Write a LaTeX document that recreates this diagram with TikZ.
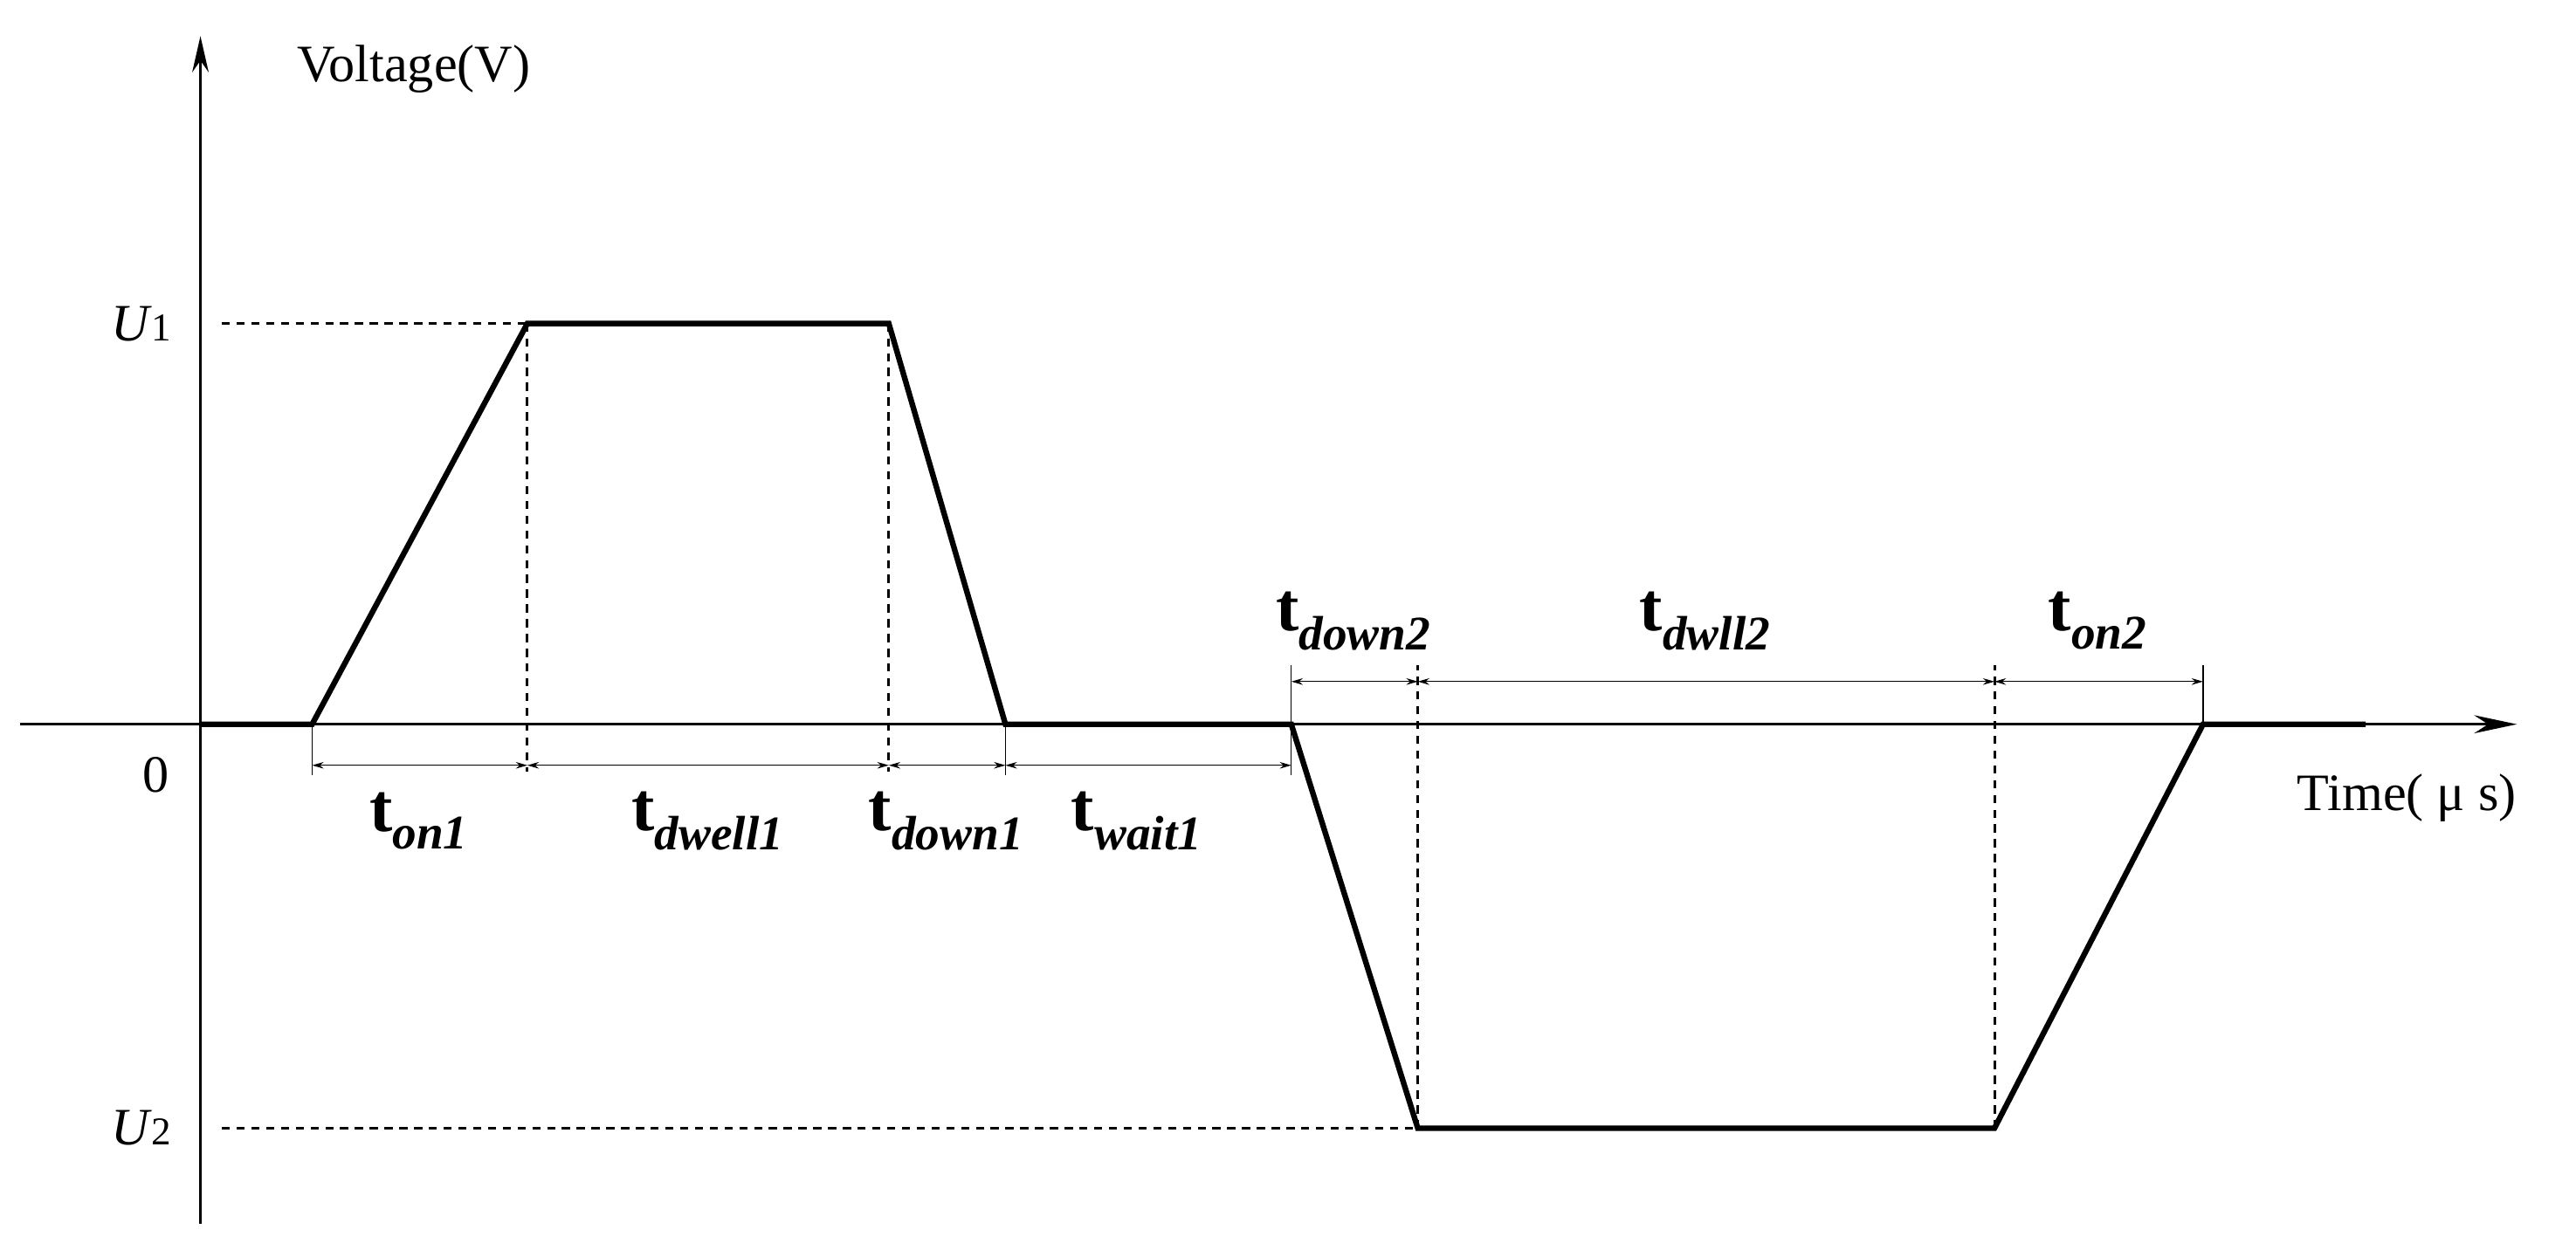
\documentclass[tikz,border=0pt]{standalone}
\usepackage{fontspec}
\setmainfont{Liberation Serif}
\usetikzlibrary{arrows.meta}
\begin{document}
\begin{tikzpicture}[x=1pt,y=-1pt,
 wave/.style={line width=3.4pt,line join=miter},
 dsh/.style={line width=1.6pt,dash pattern=on 5pt off 4pt},
 dim/.style={line width=0.6pt,{Stealth[length=7pt,width=4pt]}-{Stealth[length=7pt,width=4pt]}},
 tk/.style={line width=0.6pt},
 lab/.style={font=\fontsize{32}{36}\selectfont},
 tl/.style={font=\fontsize{42}{46}\selectfont\bfseries}]
\useasboundingbox (0,0) rectangle (1568,761);
\draw[line width=1.6pt,-{Stealth[length=22pt,width=10pt]}] (122,745) -- (122,22);
\draw[line width=1.6pt,-{Stealth[length=26pt,width=11pt]}] (12,441) -- (1532,441);
\coordinate (a) at (122,441); \coordinate (b) at (190,441); \coordinate (c) at (321,197);
\coordinate (d) at (541,197); \coordinate (e) at (612,441); \coordinate (f) at (786,441);
\coordinate (g) at (863,687); \coordinate (h) at (1214,687); \coordinate (i) at (1341,441);
\coordinate (j) at (1440,441);
\draw[wave] (a)--(b)--(c)--(d)--(e)--(f)--(g)--(h)--(i)--(j);
\draw[dsh] (135,197) -- (c); \draw[dsh] (c) -- (321,470); \draw[dsh] (d) -- (541,470);
\draw[dsh] (135,687) -- (g); \draw[dsh] (g) -- (863,405); \draw[dsh] (h) -- (1214,405);
\draw[tk] (190,441)--(190,472); \draw[tk] (612,441)--(612,472);
\draw[tk] (786,441)--(786,472); \draw[tk] (786,441)--(786,405); \draw[tk] (1341,441)--(1341,405);
\draw[dim] (190,466)--(321,466); \draw[dim] (321,466)--(541,466);
\draw[dim] (541,466)--(612,466); \draw[dim] (612,466)--(786,466);
\draw[dim] (786,415)--(863,415); \draw[dim] (863,415)--(1214,415); \draw[dim] (1214,415)--(1341,415);
\node[lab] (vl) at (252,42) {Voltage(V)};
\node[lab] (u1) at (86,197) {\textit{U}\fontsize{24}{28}\selectfont 1};
\node[lab] (u2) at (86,687) {\textit{U}\fontsize{24}{28}\selectfont 2};
\node[lab] (z) at (95,472) {0};
\node[lab] (tm) at (1465,486) {Time( μ s)};
\node[tl] at (255,500) {t\textsubscript{\textit{on1}}};
\node[tl] at (431,500) {t\textsubscript{\textit{dwell1}}};
\node[tl] at (576,500) {t\textsubscript{\textit{down1}}};
\node[tl] at (692,500) {t\textsubscript{\textit{wait1}}};
\node[tl] at (824,378) {t\textsubscript{\textit{down2}}};
\node[tl] at (1038,378) {t\textsubscript{\textit{dwll2}}};
\node[tl] at (1277,378) {t\textsubscript{\textit{on2}}};
\end{tikzpicture}
\end{document}
